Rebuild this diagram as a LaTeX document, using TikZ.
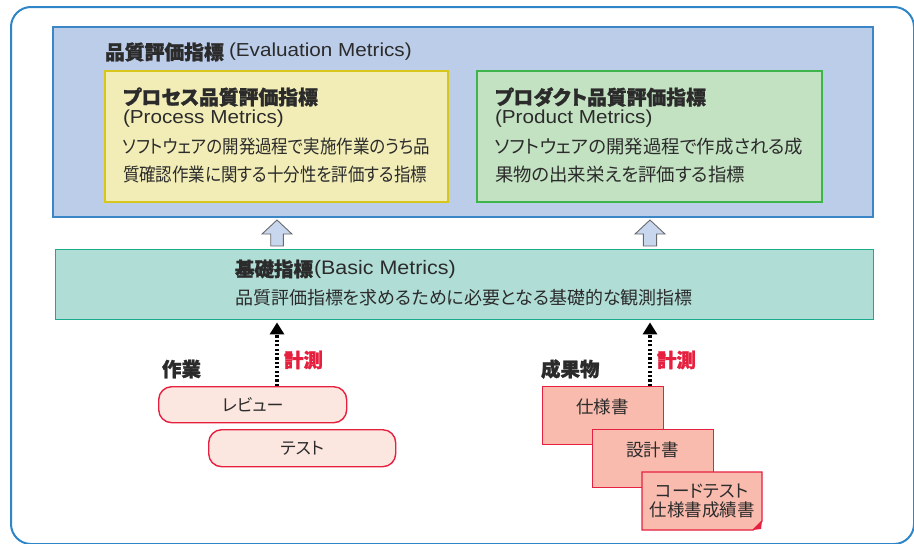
\documentclass[tikz,border=0pt]{standalone}
\usepackage{fontspec}
\usetikzlibrary{arrows.meta}
\newfontfamily\jp[RawFeature=+palt,BoldFeatures={FakeBold=1.3}]{Noto Sans CJK JP}
\newfontfamily\jpc[RawFeature=+palt,FakeStretch=0.89]{Noto Sans CJK JP}
\newfontfamily\lat[FakeStretch=1.1]{Liberation Sans}
\definecolor{outerc}{HTML}{2E86C8}
\definecolor{bluef}{HTML}{BCCDE9}
\definecolor{bluel}{HTML}{3A86C6}
\definecolor{yelf}{HTML}{F2EDB6}
\definecolor{yell}{HTML}{D8C61A}
\definecolor{grnf}{HTML}{C3E2C2}
\definecolor{grnl}{HTML}{3DB54A}
\definecolor{tealf}{HTML}{B0DDD6}
\definecolor{teall}{HTML}{1AAA8C}
\definecolor{pinkf}{HTML}{FCE6E0}
\definecolor{redl}{HTML}{E6203F}
\definecolor{docf}{HTML}{F8BBAD}
\definecolor{txt}{HTML}{2B2B2B}
\definecolor{arrf}{HTML}{C8D6EE}
\definecolor{arrl}{HTML}{6A6A6A}
\begin{document}
\begin{tikzpicture}[x=1pt,y=-1pt,
  txtn/.style={inner sep=0pt,outer sep=0pt,text=txt},
  head/.style={txtn,anchor=west,font=\jp\bfseries\fontsize{19.8}{22}\selectfont},
  body/.style={txtn,anchor=west,font=\jp\fontsize{18.4}{20}\selectfont},
  bodyc/.style={txtn,anchor=west,font=\jpc\fontsize{18.5}{20}\selectfont},
  latn/.style={txtn,anchor=west,font=\lat\fontsize{18.8}{22}\selectfont},
  workbox/.style={draw=redl,fill=pinkf,line width=1.4pt,rounded corners=13pt},
  docbox/.style={draw=redl,fill=docf,line width=1.4pt},
  measure/.style={line width=3.4pt,dash pattern=on 2.2pt off 2.2pt,
     -{Triangle[width=14pt,length=12pt]},shorten >=2pt},
  redlab/.style={txtn,anchor=west,text=redl,font=\jp\bfseries\fontsize{19.5}{22}\selectfont},
  blockarr/.style={draw=arrl,fill=arrf,line width=0.9pt,line join=miter}
]
\useasboundingbox (0,0) rectangle (914,544);
% outer frame
\draw[outerc,line width=2pt,rounded corners=20pt] (11,7) rectangle (914,544);

% evaluation metrics
\fill[bluef,draw=bluel,line width=1.2pt] (53,27) rectangle (873,217);
\node[head] (evt) at (105,52) {品質評価指標};
\node[latn] (evl) at (229,52) {(Evaluation Metrics)};

% process metrics
\draw[yell,fill=yelf,line width=1.4pt] (105,71) rectangle (448,202);
\node[head] (pht) at (123,97) {プロセス品質評価指標};
\node[latn] (phl) at (123,119) {(Process Metrics)};
\node[bodyc] (pb1) at (123,147) {ソフトウェアの開発過程で実施作業のうち品};
\node[bodyc] (pb2) at (123,175) {質確認作業に関する十分性を評価する指標};

% product metrics
\draw[grnl,fill=grnf,line width=1.4pt] (477,71) rectangle (822,202);
\node[head] (dht) at (495,97) {プロダクト品質評価指標};
\node[latn] (dhl) at (495,119) {(Product Metrics)};
\node[body] (db1) at (495,147) {ソフトウェアの開発過程で作成される成};
\node[body] (db2) at (495,175) {果物の出来栄えを評価する指標};

% block arrows
\draw[blockarr] (270.7,246) -- (270.7,234) -- (262,234) -- (277,220) -- (292,234) -- (283.3,234) -- (283.3,246) -- cycle;
\draw[blockarr] (643.4,246) -- (643.4,234) -- (635,234) -- (650,220) -- (665,234) -- (656.6,234) -- (656.6,246) -- cycle;

% basic metrics
\node[draw=teall,fill=tealf,line width=1.4pt,minimum width=818pt,minimum height=70pt,inner sep=0pt,anchor=north west] (basic) at (55,249) {};
\node[head,font=\jp\bfseries\fontsize{19.5}{22}\selectfont] (bht) at (235,269) {基礎指標};
\node[latn,font=\lat\fontsize{19.5}{22}\selectfont] (bhl) at (314,269) {(Basic Metrics)};
\node[body,font=\jp\fontsize{18}{20}\selectfont] (bb1) at (235,298) {品質評価指標を求めるために必要となる基礎的な観測指標};

% work
\node[head,font=\jp\bfseries\fontsize{19.5}{22}\selectfont] (work) at (162,369) {作業};
\node[workbox,minimum width=188pt,minimum height=36pt,inner sep=0pt,anchor=north west] (rev) at (158,386) {};
\node[txtn,font=\jp\fontsize{17}{20}\selectfont] (revt) at (rev.center) {レビュー};
\node[workbox,minimum width=187pt,minimum height=37pt,inner sep=0pt,anchor=north west] (tst) at (208,429) {};
\node[txtn,font=\jp\fontsize{17}{20}\selectfont] (tstt) at (tst.center) {テスト};

% deliverables
\node[head,font=\jp\bfseries\fontsize{19.5}{22}\selectfont] (prod) at (541,369) {成果物};
\node[docbox,minimum width=121pt,minimum height=58pt,inner sep=0pt,anchor=north west] (spec) at (542,386) {};
\node[txtn,font=\jp\fontsize{17.5}{20}\selectfont] (spect) at (602.5,407) {仕様書};
\node[docbox,minimum width=121pt,minimum height=58pt,inner sep=0pt,anchor=north west] (des) at (592,429) {};
\node[txtn,font=\jp\fontsize{17.5}{20}\selectfont] (dest) at (652.5,450) {設計書};
\draw[docbox] (642,472) -- (762,472) -- (762,521) -- (753,530) -- (642,530) -- cycle;
\fill[redl] (762,521) -- (753,530) -- (761,529) -- cycle;
\node[txtn,font=\jp\fontsize{17.5}{20}\selectfont,align=center] (codet) at (702,501) {コードテスト\\[-1pt]仕様書成績書};

% measurement arrows
\coordinate (c1) at (277,0);
\coordinate (c2) at (650,0);
\draw[measure] (rev.north -| c1) -- (basic.south -| c1);
\draw[measure] (spec.north -| c2) -- (basic.south -| c2);
\node[redlab] (m1) at (284,360) {計測};
\node[redlab] (m2) at (657,360) {計測};
\end{tikzpicture}
\end{document}
